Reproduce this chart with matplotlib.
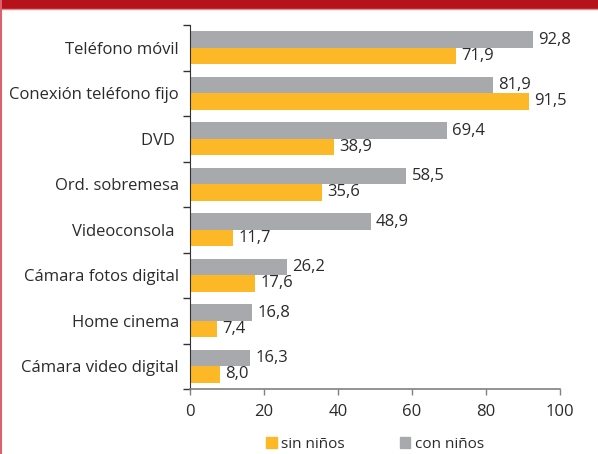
import matplotlib.pyplot as plt
from matplotlib.patches import Patch, Rectangle
from matplotlib.lines import Line2D

plt.rcParams['font.family'] = ['Open Sans', 'DejaVu Sans']

categorias = ['Teléfono móvil', 'Conexión teléfono fijo', 'DVD ', 'Ord. sobremesa',
              'Videoconsola ', 'Cámara fotos digital', 'Home cinema', 'Cámara video digital']
con_ninos = [92.8, 81.9, 69.4, 58.5, 48.9, 26.2, 16.8, 16.3]
sin_ninos = [71.9, 91.5, 38.9, 35.6, 11.7, 17.6, 7.4, 8.0]
xticks = [0, 20, 40, 60, 80, 100]

naranja = '#FDB827'
gris = '#A7A9AC'
texto = '#2b2b2b'

W, H = 598, 454
fig = plt.figure(figsize=(W / 100, H / 100), dpi=100)

# red header band and left border
fig.patches.append(Rectangle((0, 1 - 8 / H), 1, 8 / H, transform=fig.transFigure,
                             color='#B5121B', zorder=0))
fig.lines.append(Line2D([0, 1], [1 - 9 / H, 1 - 9 / H], transform=fig.transFigure,
                        color='#E88C90', lw=1))
fig.lines.append(Line2D([0.8 / W, 0.8 / W], [0, 1], transform=fig.transFigure,
                        color='#D9636B', lw=1.5))

ax = fig.add_axes([190 / W, (H - 389) / H, 370 / W, 364 / H])

pos = list(range(len(categorias)))
h = 0.36
ax.barh([p - h / 2 for p in pos], con_ninos, height=h, color=gris)
ax.barh([p + h / 2 for p in pos], sin_ninos, height=h, color=naranja)

for p, v in zip(pos, con_ninos):
    ax.text(v + 1.4, p - h / 2, f'{v:.1f}'.replace('.', ','), va='center', ha='left',
            fontsize=12, color=texto)
for p, v in zip(pos, sin_ninos):
    ax.text(v + 1.4, p + h / 2, f'{v:.1f}'.replace('.', ','), va='center', ha='left',
            fontsize=12, color=texto)

ax.set_xlim(0, 100)
ax.set_ylim(len(categorias) - 0.5, -0.5)

ax.set_yticks([p - 0.5 for p in pos] + [len(categorias) - 0.5])
ax.set_yticklabels([])
ax.set_yticks(pos, minor=True)
ax.set_yticklabels(categorias, minor=True, fontsize=12, color=texto)
ax.tick_params(axis='y', which='major', length=5, width=1, color='#333333', direction='out')
ax.tick_params(axis='y', which='minor', length=0, pad=8)

ax.set_xticks(xticks)
ax.set_xticklabels([str(x) for x in xticks], fontsize=12, color=texto)
ax.tick_params(axis='x', length=4, width=1, color='#808080', pad=7)

for s in ['top', 'right']:
    ax.spines[s].set_visible(False)
ax.spines['left'].set_color('#333333')
ax.spines['bottom'].set_color('#808080')
ax.spines['bottom'].set_linewidth(1.2)

handles = [Patch(color=naranja, label='sin niños'), Patch(color=gris, label='con niños')]
fig.legend(handles=handles, loc='center', bbox_to_anchor=(375 / W, 1 - 444 / H), ncol=2,
           frameon=False, fontsize=11, handlelength=0.7, handleheight=0.7,
           handletextpad=0.3, columnspacing=3.6, labelcolor=texto)

fig.savefig('out.png', dpi=100)
